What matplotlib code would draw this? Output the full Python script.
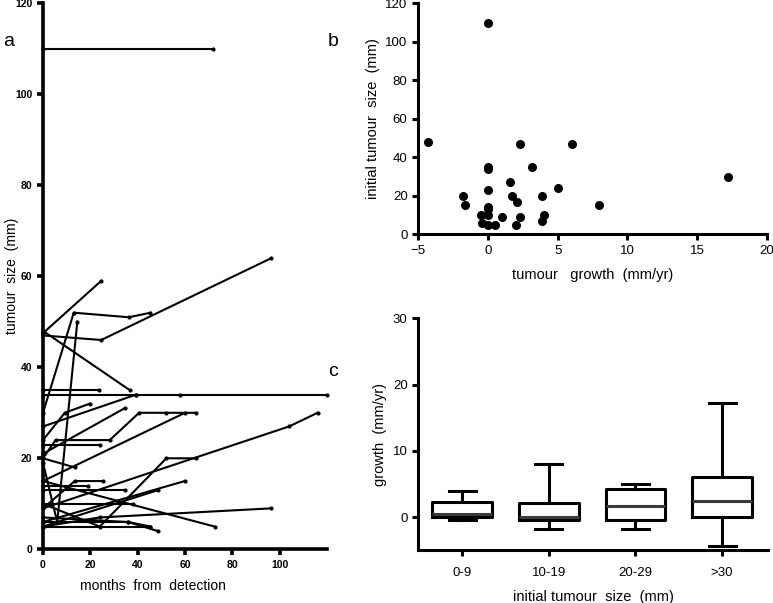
import matplotlib
matplotlib.use("Agg")
import matplotlib.pyplot as plt

plt.rcParams['font.family'] = ['Liberation Sans', 'DejaVu Sans']

# ---------------- data ----------------
# panel a: individual tumour trajectories (months from detection, size in mm)
traj_months = [
    [0, 72],
    [0, 24.6],
    [0, 24.6, 96.5],
    [0, 36.6],
    [0, 13, 36.3, 45.4],
    [0, 6, 14.5],
    [0, 23.8],
    [0, 39.4, 57.7, 120],
    [0, 39.4],
    [0, 9.2, 19.7],
    [0, 34.5],
    [0, 5.3, 28.2, 40.6, 52.1, 64.5],
    [0, 24],
    [0, 60],
    [0, 13.4],
    [0, 24, 52.1, 64.5],
    [0, 104, 116],
    [0, 59.9],
    [0, 72.5],
    [0, 24, 96.5],
    [0, 36, 45.4],
    [0, 36, 48.6],
    [0, 34.5],
    [0, 19],
    [0, 13.4, 25.3],
    [0, 45],
    [0, 48.6],
    [0, 38],
]
traj_sizes = [
    [110, 110],
    [47.5, 59],
    [47, 46, 64],
    [48, 35],
    [30, 52, 51, 52],
    [19, 6, 50],
    [35, 35],
    [34, 34, 34, 34],
    [27, 34],
    [24, 30, 32],
    [21, 31],
    [20, 24, 24, 30, 30, 30],
    [23, 23],
    [15, 30],
    [20, 18],
    [10, 5, 20, 20],
    [9, 27, 30],
    [6, 15],
    [15, 5],
    [5, 7, 9],
    [6, 6, 5],
    [7, 6, 4],
    [13, 13],
    [14, 14],
    [9, 15, 15],
    [5, 5],
    [5, 13],
    [10, 10],
]

# panel b: growth rate vs initial size
growth = [-4.3, 0, 2.3, 6.0, 0, 0, 3.2, 17.2, 1.6, 5.0, 0, -1.8, 1.7, 3.9, 2.1,
          -1.65, 8.0, 0, 0, -0.5, 0, 4.0, 1.0, 2.3, 3.9, -0.4, 0, 0.5, 2.0]
initial_size = [48, 110, 47, 47, 35, 34, 35, 30, 27, 24, 23, 20, 20, 20, 17,
                15, 15, 14, 13, 10, 10, 10, 9, 9, 7, 6, 5, 5, 5]

# panel c: box plot summaries per initial size group
groups = ["0-9", "10-19", "20-29", ">30"]
box_min = [-0.45, -1.75, -1.85, -4.3]
box_q1 = [0.0, -0.5, -0.5, 0.0]
box_med = [0.5, 0.0, 1.7, 2.4]
box_q3 = [2.35, 2.1, 4.2, 6.1]
box_max = [3.95, 8.0, 5.05, 17.2]

# ---------------- figure ----------------
W, H = 773, 603
fig = plt.figure(figsize=(W / 100, H / 100), dpi=100)


def frac(left, right, top, bottom):
    return [left / W, 1 - bottom / H, (right - left) / W, (bottom - top) / H]


def style(ax, spine_w=2.2):
    for s in ['top', 'right']:
        ax.spines[s].set_visible(False)
    for s in ['left', 'bottom']:
        ax.spines[s].set_linewidth(spine_w)
    ax.tick_params(width=spine_w, length=4, direction='out')


# panel a
axa = fig.add_axes(frac(43, 327, 3.3, 549.3))
for m, s in zip(traj_months, traj_sizes):
    axa.plot(m, s, color='black', lw=1.5, marker='o', ms=2, clip_on=False)
axa.set_xlim(0, 120)
axa.set_ylim(0, 120)
axa.set_xticks([0, 20, 40, 60, 80, 100])
axa.set_yticks([0, 20, 40, 60, 80, 100, 120])
style(axa, 2.6)
for lab in axa.get_xticklabels() + axa.get_yticklabels():
    lab.set_fontsize(7.5)
    lab.set_fontweight('bold')
axa.set_ylabel("tumour  size  (mm)", fontsize=10)
axa.set_xlabel("months  from  detection", fontsize=10, labelpad=8)
axa.xaxis.set_label_coords(0.387, -0.055)
axa.yaxis.set_label_coords(-0.085, 0.5)

# panel b
axb = fig.add_axes(frac(418, 767, 3.3, 234.3))
axb.scatter(growth, initial_size, s=30, color='black', zorder=3, clip_on=False)
axb.set_xlim(-5, 20)
axb.set_ylim(0, 120)
axb.set_xticks([-5, 0, 5, 10, 15, 20])
axb.set_yticks([0, 20, 40, 60, 80, 100, 120])
style(axb)
axb.tick_params(labelsize=9.5)
axb.set_xlabel("tumour   growth  (mm/yr)", fontsize=10.5, labelpad=8)
axb.set_ylabel("initial tumour  size  (mm)", fontsize=10.5)

# panel c
axc = fig.add_axes(frac(418, 768, 318.3, 550.3))
stats = []
for i in range(len(groups)):
    stats.append(dict(whislo=box_min[i], q1=box_q1[i], med=box_med[i],
                      q3=box_q3[i], whishi=box_max[i], label=groups[i]))
axc.bxp(stats, positions=range(len(groups)), widths=0.69, showfliers=False,
        boxprops=dict(color='black', linewidth=2.2),
        whiskerprops=dict(color='black', linewidth=2.2),
        capprops=dict(color='black', linewidth=2.2),
        medianprops=dict(color='#3a3a3a', linewidth=2.2),
        capwidths=0.31)
axc.set_xlim(-0.51, 3.53)
axc.set_ylim(-5, 30)
axc.set_yticks([0, 10, 20, 30])
style(axc)
axc.tick_params(labelsize=9.5)
axc.tick_params(axis='x', pad=8)
axc.set_xlabel("initial tumour  size  (mm)", fontsize=10.5, labelpad=8)
axc.set_ylabel("growth  (mm/yr)", fontsize=10.5)

# panel letters
fig.text(3 / W, 1 - 42 / H, "a", fontsize=14, va='center', ha='left')
fig.text(328 / W, 1 - 42 / H, "b", fontsize=14, va='center', ha='left')
fig.text(328 / W, 1 - 372 / H, "c", fontsize=14, va='center', ha='left')

fig.savefig("out.png", dpi=100)
